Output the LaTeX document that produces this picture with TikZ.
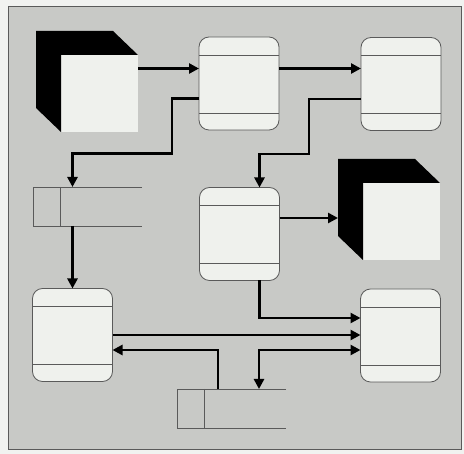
\documentclass[tikz,border=0pt]{standalone}
\usepackage{xcolor}
\usepackage{tikz}
\usetikzlibrary{arrows.meta}

\definecolor{paper}{HTML}{F1F2F0}
\definecolor{panel}{HTML}{C8C9C6}
\definecolor{boxfill}{HTML}{EFF1ED}
\definecolor{linegray}{HTML}{5A5A5A}

\begin{document}
\begin{tikzpicture}[x=1pt,y=-1pt,
  >={Triangle[length=10pt,width=10pt]},
  proc/.style={draw=linegray,line width=.8pt,fill=boxfill,rounded corners=10pt,
    minimum width=80pt,minimum height=93pt,inner sep=0pt,outer sep=0pt},
  ext/.style={fill=boxfill,minimum width=77pt,minimum height=77pt,inner sep=0pt,outer sep=0pt},
  store/.style={minimum width=109pt,minimum height=39pt,inner sep=0pt,outer sep=0pt},
  flow/.style={line width=2.8pt,->}]
\def\divlines#1{\draw[linegray,line width=.8pt] ([yshift=-18pt]#1.north west) -- ([yshift=-18pt]#1.north east)
    ([yshift=17pt]#1.south west) -- ([yshift=17pt]#1.south east);}
\def\cubeback#1{\fill[black] ([shift={(-25,-24)}]#1.south west) -- ([shift={(-25,-24)}]#1.north west)
    -- ([shift={(-25,-24)}]#1.north east) -- (#1.north east) -- (#1.north west) -- (#1.south west) -- cycle;}
\def\storelines#1{\draw[linegray,line width=.8pt] (#1.north east) -- (#1.north west) -- (#1.south west) -- (#1.south east)
    ([xshift=27pt]#1.north west) -- ([xshift=27pt]#1.south west);}
  \useasboundingbox (0,0) rectangle (464,454);
  \fill[paper] (0,0) rectangle (464,454);
  \fill[panel] (8,7) rectangle (461,450);
  \draw[linegray,line width=1pt] (8,7) rectangle (461,450);

  % processes
  \node[proc] (proc1) at (239,83.5) {};
  \node[proc] (proc2) at (401,84) {};
  \node[proc] (proc3) at (239.5,234) {};
  \node[proc] (proc4) at (72.5,335) {};
  \node[proc] (proc5) at (400.5,335.5) {};
  \divlines{proc1} \divlines{proc2} \divlines{proc3} \divlines{proc4} \divlines{proc5}

  % external entities
  \node[ext] (ext1) at (99.5,93.5) {};
  \node[ext] (ext2) at (401.5,221.5) {};
  \cubeback{ext1} \cubeback{ext2}
  \coordinate (ext2back) at ([shift={(-25,-24)}]ext2.north west);

  % data stores
  \node[store] (store1) at (87.5,206.5) {};
  \node[store] (store2) at (231.5,408.5) {};
  \storelines{store1} \storelines{store2}

  % flows
  \draw[flow] ([yshift=15pt]proc1.west -| ext1.east) -- ([yshift=15pt]proc1.west);
  \draw[flow] ([yshift=15pt]proc1.east) -- ([yshift=15pt]proc1.east -| proc2.west);
  \draw[flow] ([yshift=-15pt]proc1.west) -- ++(-27,0) -- ++(0,55) -| (proc4.north |- store1.north);
  \draw[flow] ([yshift=-15pt]proc2.west) -- ++(-52,0) -- ++(0,55) -| ([xshift=20pt]proc3.north);
  \draw[flow] ([yshift=16pt]proc3.east) -- ([yshift=16pt]proc3.east -| ext2back);
  \draw[flow] (store1.south -| proc4.north) -- (proc4.north);
  \draw[flow] ([xshift=20pt]proc3.south) |- ([yshift=17.5pt]proc5.west);
  \draw[flow] (proc4.east) -- (proc4.east -| proc5.west);
  \draw[flow] ([xshift=-13.5pt]store2.north) |- ([yshift=-15pt]proc4.east);
  \draw[flow,<->] ([xshift=27.5pt]store2.north) |- ([yshift=-14.5pt]proc5.west);
\end{tikzpicture}
\end{document}
